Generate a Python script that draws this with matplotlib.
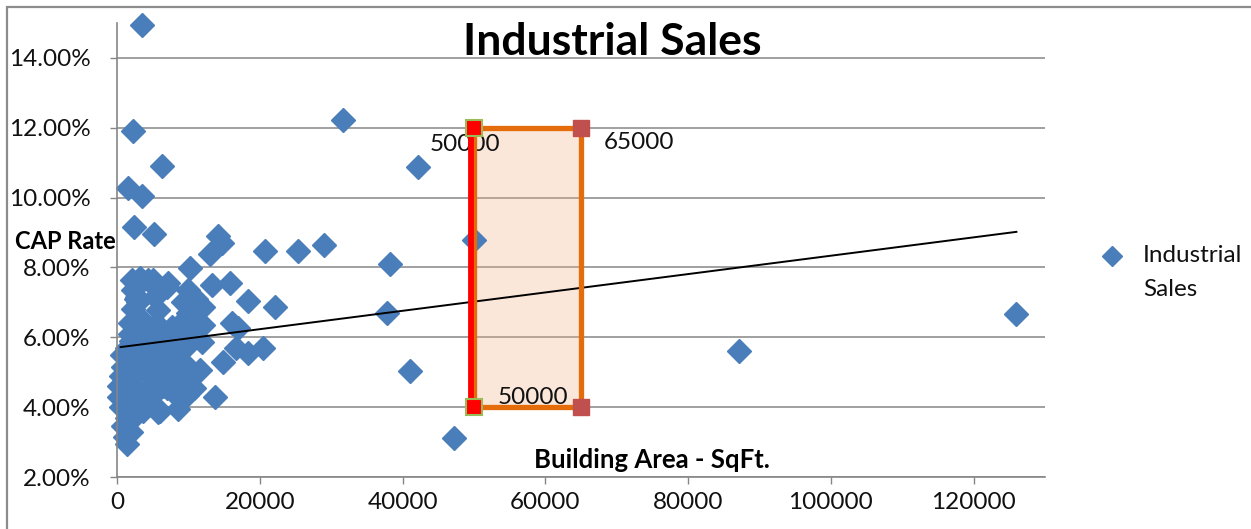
import matplotlib
matplotlib.use("Agg")
import matplotlib.pyplot as plt
from matplotlib.ticker import PercentFormatter, FixedLocator, FuncFormatter
from matplotlib.patches import Rectangle
from matplotlib.lines import Line2D
import matplotlib.transforms as mtransforms

plt.rcParams['font.family'] = ['Lato', 'DejaVu Sans']

# Building area (sq ft) and CAP rate (%) of each industrial sale
area_sqft = [
    3500, 2200, 6300, 1500, 3500, 2400, 5200, 14100, 14700, 13000, 10200,
    20800, 25300, 29000, 31700, 42100, 38200, 37800, 50000, 41000, 47200,
    87100, 125900,
    13300, 15800, 18300, 22100, 16100, 16900, 16700, 18300, 20400, 14800,
    13700, 12000, 12000, 11900, 11600, 11600,
    300, 300, 500, 800, 1100, 1400, 1400, 1800, 800, 500, 1200, 1000, 1500,
    1400, 1800, 1800, 1800, 2200, 2200, 2000, 2500, 2200, 2500, 2800, 3000,
    3200, 3200, 3200, 3500, 3000, 2600, 2800, 3800, 4000, 4200, 4600, 5000,
    5000, 5000, 5600, 5700, 6000, 6000, 6500, 7000, 7000, 7000, 7500, 8100,
    8400, 8500, 9200, 9800, 9800, 9800, 9900, 9900, 8000, 4000, 3600, 2400,
    6200, 7800, 5300, 4500, 8600, 1600, 10500, 9000, 11000, 10800, 9500,
    2000, 6800, 5800, 5300, 9200, 7100, 2800, 5700, 9900, 7700, 3900, 4300,
    2100, 11300, 700, 1300, 2900, 4800,
]
cap_rate_pct = [
    14.95, 11.91, 10.91, 10.28, 10.05, 9.16, 8.96, 8.90, 8.70, 8.39, 7.98,
    8.48, 8.48, 8.65, 12.23, 10.88, 8.10, 6.70, 8.80, 5.04, 3.12,
    5.61, 6.67,
    7.50, 7.56, 7.04, 6.87, 6.41, 6.27, 5.70, 5.55, 5.70, 5.30,
    4.29, 6.87, 6.35, 5.87, 5.07, 6.40,
    4.60, 4.30, 4.00, 3.45, 3.15, 2.95, 3.70, 3.60, 5.15, 4.90, 4.40, 4.75,
    5.00, 5.70, 5.45, 6.10, 6.40, 6.80, 7.35, 5.90, 5.30, 4.85, 4.55, 4.20,
    5.00, 4.30, 6.00, 7.70, 6.50, 7.00, 7.10, 6.20, 5.60, 5.30, 5.25, 4.15,
    7.65, 5.70, 6.30, 5.00, 3.85, 3.90, 6.30, 4.60, 4.55, 5.95, 7.45, 6.10,
    5.65, 6.30, 3.95, 5.30, 4.35, 5.00, 7.07, 7.36, 4.70, 4.80, 4.50, 3.90,
    4.00, 5.40, 5.00, 4.40, 6.00, 4.30, 4.20, 6.10, 6.20, 7.10, 4.55, 5.70,
    3.30, 5.20, 5.80, 7.15, 7.00, 7.55, 7.15, 6.78, 6.70, 6.30, 6.30, 7.64,
    7.64, 6.41, 5.50, 4.10, 5.60, 4.90,
]

# Linear trendline end points
trend_x = [500, 126000]
trend_y = [5.72, 9.02]

# Highlighted building-area band and its CAP-rate span
band_x = [50000, 65000]
band_y = [4.0, 12.0]

x_ticks = [0, 20000, 40000, 60000, 80000, 100000, 120000]
y_ticks = [2, 4, 6, 8, 10, 12, 14]

W, H = 1251, 529
fig = plt.figure(figsize=(W / 100, H / 100), dpi=100)
fig.patch.set_facecolor('white')

# chart frame
fig.add_artist(Rectangle((7 / W, -0.05), 1.2, 1 - 7 / H + 0.05,
                         transform=fig.transFigure, fill=False,
                         edgecolor='#8c8c8c', linewidth=1.6))

ax = fig.add_axes([117 / W, 1 - 477 / H, 928 / W, 454 / H])
ax.set_xlim(0, 130000)
ax.set_ylim(2, 15)
ax.set_axisbelow(True)

grid = '#868686'
for side in ('top', 'right'):
    ax.spines[side].set_visible(False)
for side in ('left', 'bottom'):
    ax.spines[side].set_color(grid)
    ax.spines[side].set_linewidth(1.2)
ax.yaxis.grid(True, color=grid, linewidth=1.1)

ax.xaxis.set_major_locator(FixedLocator(x_ticks))
ax.yaxis.set_major_locator(FixedLocator(y_ticks))
ax.xaxis.set_major_formatter(FuncFormatter(lambda v, p: f"{int(v)}"))
ax.yaxis.set_major_formatter(PercentFormatter(xmax=100, decimals=2))
ax.tick_params(axis='y', length=5, width=1, color=grid, pad=14,
               labelsize=17.5, labelcolor='#111111')
ax.tick_params(axis='x', length=5, width=1, color=grid, pad=6,
               labelsize=17.5, labelcolor='#111111')

blue = '#4A7EBB'
ax.plot(area_sqft, cap_rate_pct, linestyle='none', marker='D', ms=12,
        color=blue, markeredgecolor=blue, zorder=2, clip_on=False)

# shaded band
ax.add_patch(Rectangle((band_x[0], band_y[0]), band_x[1] - band_x[0],
                       band_y[1] - band_y[0], facecolor='#F4B183',
                       alpha=0.3, edgecolor='none', zorder=1))

ax.plot(trend_x, trend_y, color='black', linewidth=1.4, zorder=3)

# band corner labels
lab = dict(fontsize=17.5, color='#111111', zorder=4,
           textcoords='offset pixels', va='center')
ax.annotate(f"{band_x[0]}", (band_x[0], band_y[1]), xytext=(-9, -17),
            ha='center', **lab)
ax.annotate(f"{band_x[1]}", (band_x[1], band_y[1]), xytext=(23, -15),
            ha='left', **lab)
ax.annotate(f"{band_x[0]}", (band_x[0], band_y[0]), xytext=(24, 10),
            ha='left', **lab)

ax.add_patch(Rectangle((band_x[0], band_y[0]), band_x[1] - band_x[0],
                       band_y[1] - band_y[0], facecolor='none',
                       edgecolor='#E46C0A', linewidth=3.8, zorder=5))

shift = mtransforms.offset_copy(ax.transData, fig=fig, x=-3, y=0,
                                units='dots')
ax.plot([band_x[0], band_x[0]], band_y, color='#FF0000', linewidth=4.2,
        transform=shift, zorder=6, solid_capstyle='butt')

ax.plot([band_x[0], band_x[0]], band_y, linestyle='none', marker='s',
        ms=11, color='#FF0000', markeredgecolor='#9BBB59',
        markeredgewidth=1.5, zorder=7)
ax.plot([band_x[1], band_x[1]], band_y, linestyle='none', marker='s',
        ms=11, color='#C0504D', markeredgecolor='#C0504D', zorder=7)

# titles
fig.text(612 / W, 1 - 42 / H, 'Industrial Sales', ha='center', va='center',
         fontsize=32, fontweight='bold', color='black')
fig.text(15 / W, 1 - 242 / H, 'CAP Rate', ha='left', va='center',
         fontsize=17, fontweight='bold', color='black')
fig.text(652 / W, 1 - 460 / H, 'Building Area - SqFt.', ha='center',
         va='center', fontsize=18.5, fontweight='bold', color='black')

# legend
fig.add_artist(Line2D([1112 / W], [1 - 256 / H], transform=fig.transFigure,
                      marker='D', ms=10.5, color=blue, linestyle='none'))
fig.text(1143 / W, 1 - 256 / H, 'Industrial', ha='left', va='center',
         fontsize=17.5, color='#111111')
fig.text(1143 / W, 1 - 289 / H, 'Sales', ha='left', va='center',
         fontsize=17.5, color='#111111')

fig.savefig('out.png', dpi=100)
